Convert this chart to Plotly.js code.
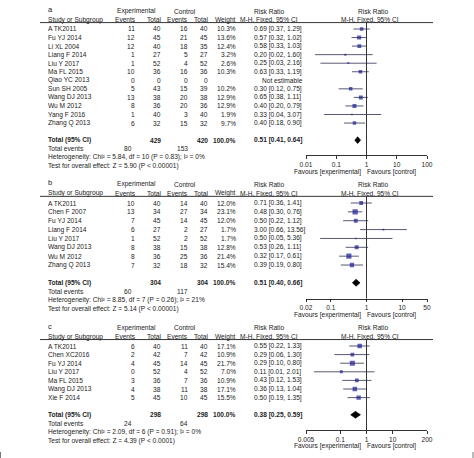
<!DOCTYPE html>
<html><head><meta charset="utf-8">
<script src="https://cdn.plot.ly/plotly-3.0.1.min.js"></script>
<style>html,body{margin:0;padding:0;background:#fff}#chart{width:474px;height:458px}</style>
</head><body><div id="chart"></div>
<script>
// ---------- Panel a ----------
const studiesA = ["A TK2011","Fu YJ 2014","Li XL 2004","Liang F 2014","Liu Y 2017","Ma FL 2015","Qiao YC 2013","Sun SH 2005","Wang DJ 2013","Wu M 2012","Yang F 2016","Zhang Q 2013"];
const expEventsA = [11,12,12,1,1,10,0,5,13,8,1,6];
const expTotalA  = [40,45,40,27,52,36,0,43,38,36,40,32];
const ctlEventsA = [16,21,18,5,4,16,0,15,20,20,3,15];
const ctlTotalA  = [40,45,35,27,52,36,0,39,38,36,40,32];
const weightA    = [10.3,13.6,12.4,3.2,2.6,10.3,null,10.2,12.9,12.9,1.9,9.7];
const rrA        = [0.69,0.57,0.58,0.20,0.25,0.63,null,0.30,0.65,0.40,0.33,0.40];
const loA        = [0.37,0.32,0.33,0.02,0.03,0.33,null,0.12,0.38,0.20,0.04,0.18];
const hiA        = [1.29,1.02,1.03,1.60,2.16,1.19,null,0.75,1.11,0.79,3.07,0.90];
const totalNA    = [429,420];
const totalEventsA = [80,153];
const totalRRA   = [0.51,0.41,0.64];
const hetA  = "Heterogeneity: Chi² = 5.84, df = 10 (P = 0.83); I² = 0%";
const testA = "Test for overall effect: Z = 5.90 (P &lt; 0.00001)";
const tickValsA = [0.01,0.1,1,10,100];
const tickTextA = ["0.01","0.1","1","10","100"];

// ---------- Panel b ----------
const studiesB = ["A TK2011","Chen F 2007","Fu YJ 2014","Liang F 2014","Liu Y 2017","Wang DJ 2013","Wu M 2012","Zhang Q 2013"];
const expEventsB = [10,13,7,6,1,8,8,7];
const expTotalB  = [40,34,45,27,52,38,36,32];
const ctlEventsB = [14,27,14,2,2,15,25,18];
const ctlTotalB  = [40,34,45,27,52,38,36,32];
const weightB    = [12.0,23.1,12.0,1.7,1.7,12.8,21.4,15.4];
const rrB        = [0.71,0.48,0.50,3.00,0.50,0.53,0.32,0.39];
const loB        = [0.36,0.30,0.22,0.66,0.05,0.26,0.17,0.19];
const hiB        = [1.41,0.76,1.12,13.56,5.36,1.11,0.61,0.80];
const totalNB    = [304,304];
const totalEventsB = [60,117];
const totalRRB   = [0.51,0.40,0.66];
const hetB  = "Heterogeneity: Chi² = 8.85, df = 7 (P = 0.26); I² = 21%";
const testB = "Test for overall effect: Z = 5.14 (P &lt; 0.00001)";
const tickValsB = [0.02,0.1,1,10,50];
const tickTextB = ["0.02","0.1","1","10","50"];

// ---------- Panel c ----------
const studiesC = ["A TK2011","Chen XC2016","Fu YJ 2014","Liu Y 2017","Ma FL 2015","Wang DJ 2013","Xie F 2014"];
const expEventsC = [6,2,4,0,3,4,5];
const expTotalC  = [40,42,45,52,36,38,45];
const ctlEventsC = [11,7,14,4,7,11,10];
const ctlTotalC  = [40,42,45,52,36,38,45];
const weightC    = [17.1,10.9,21.7,7.0,10.9,17.1,15.5];
const rrC        = [0.55,0.29,0.29,0.11,0.43,0.36,0.50];
const loC        = [0.22,0.06,0.10,0.01,0.12,0.13,0.19];
const hiC        = [1.33,1.30,0.80,2.01,1.53,1.04,1.35];
const totalNC    = [298,298];
const totalEventsC = [24,64];
const totalRRC   = [0.38,0.25,0.59];
const hetC  = "Heterogeneity: Chi² = 2.09, df = 6 (P = 0.91); I² = 0%";
const testC = "Test for overall effect: Z = 4.39 (P &lt; 0.0001)";
const tickValsC = [0.005,0.1,1,10,200];
const tickTextC = ["0.005","0.1","1","10","200"];

// ---------- layout constants ----------
const W = 474, H = 458;
const FONT = "Liberation Sans, Arial, sans-serif";
const FS = 6.6;
const TXT = "#222";
const panels = [
  {letter:"a", st:studiesA, ee:expEventsA, et:expTotalA, ce:ctlEventsA, ct:ctlTotalA, w:weightA, rr:rrA, lo:loA, hi:hiA,
   tn:totalNA, tev:totalEventsA, trr:totalRRA, het:hetA, test:testA, tv:tickValsA, tt:tickTextA, row0:29, s:8.55},
  {letter:"b", st:studiesB, ee:expEventsB, et:expTotalB, ce:ctlEventsB, ct:ctlTotalB, w:weightB, rr:rrB, lo:loB, hi:hiB,
   tn:totalNB, tev:totalEventsB, trr:totalRRB, het:hetB, test:testB, tv:tickValsB, tt:tickTextB, row0:203, s:8.86},
  {letter:"c", st:studiesC, ee:expEventsC, et:expTotalC, ce:ctlEventsC, ct:ctlTotalC, w:weightC, rr:rrC, lo:loC, hi:hiC,
   tn:totalNC, tev:totalEventsC, trr:totalRRC, het:hetC, test:testC, tv:tickValsC, tt:tickTextC, row0:346, s:8.6}
];
const COL = {name:47, ee:136, et:162, ce:189, ct:209, w:237, rr:253, expHdr:136, ctlHdr:185, rrHdr1:269, rrHdr2:370};
const XDOM = [306/W, 427/W];

const traces = [], annotations = [], shapes = [];
const layout = {
  width:W, height:H, margin:{l:0,r:0,t:0,b:0},
  paper_bgcolor:"#fff", plot_bgcolor:"rgba(0,0,0,0)",
  font:{family:FONT, size:FS, color:TXT}, showlegend:false, hovermode:false
};
const f2 = v => v.toFixed(2);

panels.forEach((p, i) => {
  const sfx = i === 0 ? "" : String(i+1);
  const xa = "x"+sfx, ya = "y"+sfx;
  const n = p.st.length;
  const totRow = n + 1, evRow = n + 2, hetRow = n + 3, testRow = n + 4;
  const axisRow = n + 2.8, topRow = -3.2;
  const hdr1 = -2.1, hdr2 = -1.1, uline = -0.75;
  const rowPix = r => p.row0 + r*p.s;
  const axisPix = rowPix(axisRow), topPix = rowPix(topRow);
  layout["yaxis"+sfx] = {domain:[1-axisPix/H, Math.min(1, 1-topPix/H)], range:[axisRow, topRow],
    visible:false, fixedrange:true, showgrid:false, zeroline:false};
  const lmin = Math.log10(p.tv[0]), lmax = Math.log10(p.tv[p.tv.length-1]);
  layout["xaxis"+sfx] = {domain:XDOM, anchor:ya, type:"log", range:[lmin,lmax],
    tickmode:"array", tickvals:p.tv, ticktext:p.tt, ticks:"outside", ticklen:3, tickwidth:0.8, tickcolor:"#000",
    showline:true, linecolor:"#000", linewidth:0.8, showgrid:false, zeroline:false, fixedrange:true,
    tickfont:{size:FS, color:TXT, family:FONT}};

  const A = (x, r, text, xanchor, extra) => annotations.push(Object.assign({
    x:x/W, xref:"paper", y:1 - rowPix(r)/H, yref:"paper", text:text, showarrow:false, xanchor:xanchor, yanchor:"middle",
    font:{size:FS, color:TXT, family:FONT}, borderpad:0}, extra||{}));

  // headers
  A(COL.name, hdr1-0.2, p.letter, "left", {font:{size:FS+1, color:TXT, family:FONT}});
  A(COL.expHdr, hdr1, "Experimental", "center");
  A(COL.ctlHdr, hdr1, "Control", "center");
  A(COL.rrHdr1, hdr1, "Risk Ratio", "center");
  A(COL.rrHdr2+3, hdr1, "Risk Ratio", "center");
  A(COL.name, hdr2, "Study or Subgroup", "left");
  A(COL.ee+1, hdr2, "Events", "right");
  A(COL.et, hdr2, "Total", "right");
  A(COL.ce, hdr2, "Events", "right");
  A(COL.ct, hdr2, "Total", "right");
  A(COL.w, hdr2, "Weight", "right");
  A(COL.rrHdr1, hdr2, "M-H, Fixed, 95% CI", "center");
  A(COL.rrHdr2, hdr2, "M-H, Fixed, 95% CI", "center");
  shapes.push({type:"line", xref:"paper", yref:ya, x0:40/W, x1:433/W, y0:uline, y1:uline, line:{color:"#000", width:0.8}});

  // study rows
  const ciX = [], ciY = [], sqX = [], sqY = [], sqS = [];
  p.st.forEach((name, k) => {
    A(COL.name, k, name, "left");
    A(COL.ee, k, String(p.ee[k]), "right");
    A(COL.et, k, String(p.et[k]), "right");
    A(COL.ce, k, String(p.ce[k]), "right");
    A(COL.ct, k, String(p.ct[k]), "right");
    if (p.w[k] !== null) A(COL.w, k, p.w[k].toFixed(1)+"%", "right");
    if (p.rr[k] !== null) {
      A(COL.rr, k, f2(p.rr[k])+" ["+f2(p.lo[k])+", "+f2(p.hi[k])+"]", "left");
      ciX.push(p.lo[k], p.hi[k], null); ciY.push(k, k, null);
      sqX.push(p.rr[k]); sqY.push(k); sqS.push(Math.max(1.6, 1.1*Math.sqrt(p.w[k])));
    } else {
      A(COL.rr+8, k, "Not estimable", "left");
    }
  });
  // totals
  A(COL.name, totRow, "<b>Total (95% CI)</b>", "left");
  A(COL.et, totRow, "<b>"+p.tn[0]+"</b>", "right");
  A(COL.ct, totRow, "<b>"+p.tn[1]+"</b>", "right");
  A(COL.w, totRow, "<b>100.0%</b>", "right");
  A(COL.rr, totRow, "<b>"+f2(p.trr[0])+" ["+f2(p.trr[1])+", "+f2(p.trr[2])+"]</b>", "left");
  A(COL.name, evRow, "Total events", "left");
  A(COL.ee-3, evRow, String(p.tev[0]), "right");
  A(COL.ce, evRow, String(p.tev[1]), "right");
  A(COL.name, hetRow, p.het, "left");
  A(COL.name, testRow, p.test, "left");
  // favours
  const favRow = axisRow + 16/p.s;
  A(327, favRow, "Favours [experimental]", "center");
  A(391, favRow, "Favours [control]", "center");

  // marks
  traces.push({x:[1,1], y:[uline, axisRow], xaxis:xa, yaxis:ya, mode:"lines", line:{color:"#000", width:0.8}, hoverinfo:"skip"});
  traces.push({x:ciX, y:ciY, xaxis:xa, yaxis:ya, mode:"lines", line:{color:"#2e2e4e", width:0.8}, connectgaps:false, hoverinfo:"skip"});
  traces.push({x:sqX, y:sqY, xaxis:xa, yaxis:ya, mode:"markers", marker:{symbol:"square", size:sqS, color:"#1c1c94", line:{width:0}}, hoverinfo:"skip"});
  const t = totRow, hh = 0.4;
  traces.push({x:[p.trr[1], p.trr[0], p.trr[2], p.trr[0], p.trr[1]], y:[t, t-hh, t, t+hh, t], xaxis:xa, yaxis:ya,
    mode:"lines", fill:"toself", fillcolor:"#000", line:{color:"#000", width:0.6}, hoverinfo:"skip"});
});
// small frame corner ticks at the bottom edge of the figure
shapes.push({type:"line", xref:"paper", yref:"paper", x0:0.5/W, x1:0.5/W, y0:0, y1:6/H, line:{color:"#555", width:0.8}});
shapes.push({type:"line", xref:"paper", yref:"paper", x0:1-1/W, x1:1-1/W, y0:0, y1:6/H, line:{color:"#555", width:0.8}});
layout.annotations = annotations;
layout.shapes = shapes;
Plotly.newPlot("chart", traces, layout, {staticPlot:true, displayModeBar:false});
</script>
</body></html>
